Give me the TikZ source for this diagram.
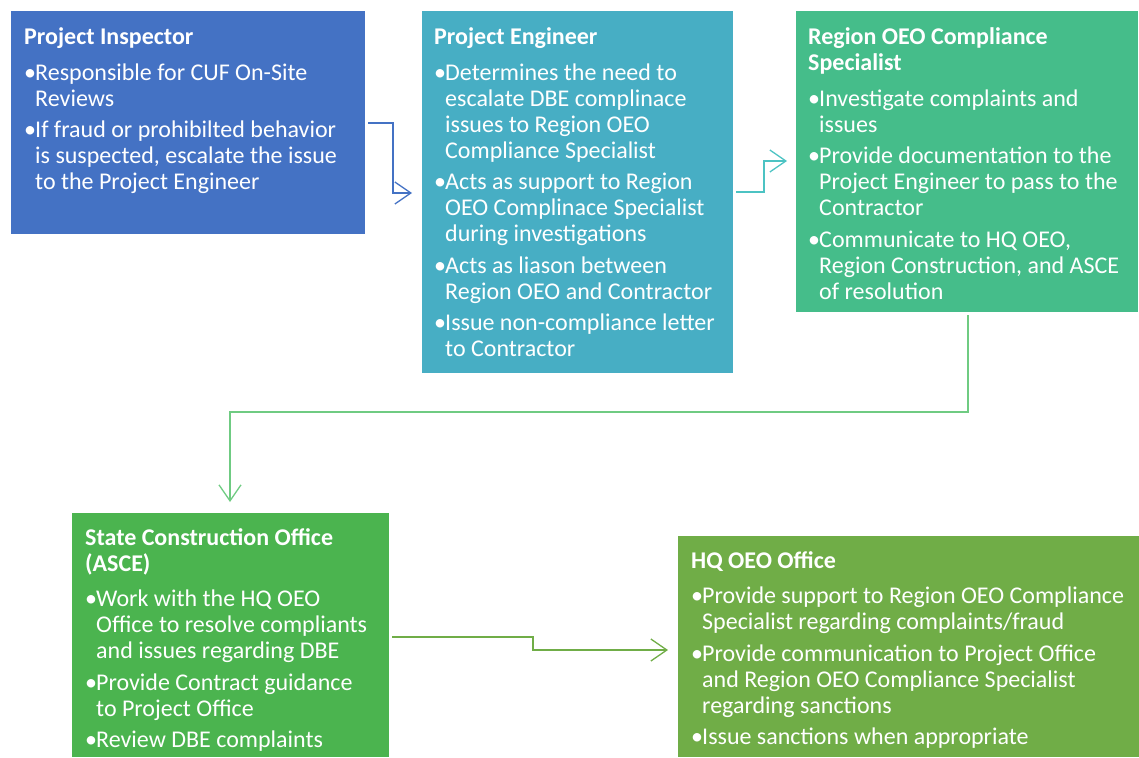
\documentclass[tikz,border=0pt]{standalone}
\usepackage{fontspec}
\setmainfont{Carlito}
\usetikzlibrary{arrows.meta}
\definecolor{cA}{HTML}{4472C4}
\definecolor{cB}{HTML}{47AEC4}
\definecolor{cC}{HTML}{45BD8A}
\definecolor{cD}{HTML}{4BB44F}
\definecolor{cE}{HTML}{70AD47}
\definecolor{aB}{HTML}{4CC3C3}
\definecolor{aC}{HTML}{6FCB82}
\newcommand{\bul}[1]{\par\hangindent=11pt\hangafter=1\noindent\makebox[11pt][l]{•}#1}
\newcommand{\ttl}[1]{\noindent\textbf{#1}\par\vspace{4pt}}
\tikzset{
  box/.style={draw=none, anchor=north west, inner sep=0pt},
  txt/.style={anchor=base west, inner sep=0pt, text=white, font=\fontsize{24}{26}\selectfont},
  conn/.style={line width=1.3pt, -{Straight Barb[length=16pt,width=22pt]}}
}
\newcommand{\blk}[2]{\parbox[t]{#1}{\setlength{\parskip}{5.5pt}\setlength{\parindent}{0pt}#2}}
\begin{document}
\begin{tikzpicture}[x=1pt,y=-1pt]
\useasboundingbox (0,0) rectangle (1139,757);
% boxes
\node[box, fill=cA, minimum width=354pt, minimum height=223pt] (pi) at (11,11) {};
\node[box, fill=cB, minimum width=311pt, minimum height=362pt] (pe) at (422,11) {};
\node[box, fill=cC, minimum width=342pt, minimum height=301pt] (rs) at (796,11) {};
\node[box, fill=cD, minimum width=317pt, minimum height=244pt] (sc) at (72,513) {};
\node[box, fill=cE, minimum width=461pt, minimum height=221pt] (hq) at (678,536) {};
% texts
\node[txt] (pitx) at (24,45) {\blk{340pt}{\ttl{Project Inspector}%
\bul{Responsible for CUF On-Site\\Reviews}%
\bul{If fraud or prohibilted behavior\\is suspected, escalate the issue\\to the Project Engineer}}};
\node[txt] (petx) at (434,45) {\blk{300pt}{\ttl{Project Engineer}%
\bul{Determines the need to\\escalate DBE complinace\\issues to Region OEO\\Compliance Specialist}%
\bul{Acts as support to Region\\OEO Complinace Specialist\\during investigations}%
\bul{Acts as liason between\\Region OEO and Contractor}%
\bul{Issue non-compliance letter\\to Contractor}}};
\node[txt] (rstx) at (808,45) {\blk{330pt}{\ttl{Region OEO Compliance\\Specialist}%
\bul{Investigate complaints and\\issues}%
\bul{Provide documentation to the\\Project Engineer to pass to the\\Contractor}%
\bul{Communicate to HQ OEO,\\Region Construction, and ASCE\\of resolution}}};
\node[txt] (sctx) at (85,545) {\blk{300pt}{\ttl{State Construction Office\\(ASCE)}%
\bul{Work with the HQ OEO\\Office to resolve compliants\\and issues regarding DBE}%
\bul{Provide Contract guidance\\to Project Office}%
\bul{Review DBE complaints}}};
\node[txt] (hqtx) at (691,568) {\blk{445pt}{\ttl{HQ OEO Office}%
\bul{Provide support to Region OEO Compliance\\Specialist regarding complaints/fraud}%
\bul{Provide communication to Project Office\\and Region OEO Compliance Specialist\\regarding sanctions}%
\bul{Issue sanctions when appropriate}}};
% connectors
\draw[conn, draw=cA] ([shift={(3,112)}]pi.north east) -| (393,193) -- ([shift={(-10,182)}]pe.north west);
\draw[conn, draw=aB] ([shift={(3,181)}]pe.north east) -| (764,161) -- ([shift={(-9,150)}]rs.north west);
\draw[conn, draw=aC] ([shift={(172,3)}]rs.south west) -- (968,412) -| ([shift={(158,-11)}]sc.north west);
\draw[conn, draw=cE] ([shift={(3,124)}]sc.north east) -| (533,650) -- ([shift={(-10,114)}]hq.north west);
\end{tikzpicture}
\end{document}
